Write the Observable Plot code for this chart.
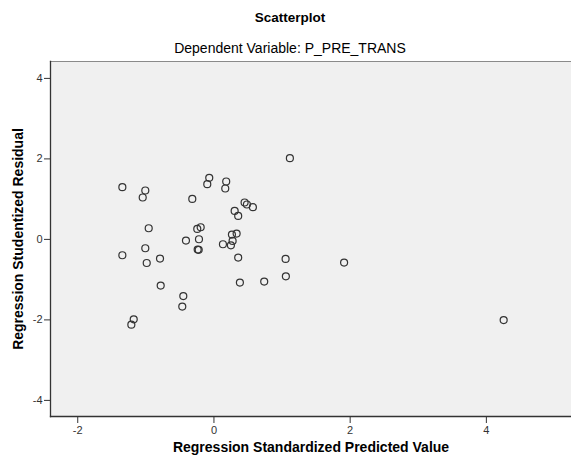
<!DOCTYPE html>
<html>
<head>
<meta charset="utf-8">
<script src="https://cdn.jsdelivr.net/npm/d3@7"></script>
<script src="https://cdn.jsdelivr.net/npm/@observablehq/plot@0.6"></script>
<style>
  html, body { margin: 0; padding: 0; background: #ffffff; }
  #wrap { position: relative; width: 571px; height: 459px; overflow: hidden; font-family: "Liberation Sans", Arial, sans-serif; }
  .ttl { position: absolute; left: 0; width: 580px; text-align: center; color: #000; white-space: nowrap; }
  #t1 { top: 10px; font-size: 13.5px; font-weight: bold; }
  #t2 { top: 40px; font-size: 14px; }
  #chart { position: absolute; left: 0; top: 0; }
</style>
</head>
<body>
<div id="wrap">
  <div id="chart"></div>
  <div class="ttl" id="t1">Scatterplot</div>
  <div class="ttl" id="t2">Dependent Variable: P_PRE_TRANS</div>
</div>
<script>
// Regression Standardized Predicted Value
const predicted = [
  -1.345, -1.008, -1.046, -0.069, -0.098, 0.180, 0.166, -0.318, 1.115, 0.450,
  0.484, 0.572, 0.304, 0.356, -0.958, -0.245, -0.195, -0.220, -0.411, 0.264,
  0.333, 0.274, 0.249, 0.132, -0.239, -0.224, -1.008, -1.345, -0.792, -0.987,
  0.356, 1.052, 1.056, 0.381, 0.738, -0.782, -0.450, -0.465, -1.178, -1.213,
  1.911, 4.254
];
// Regression Studentized Residual
const residual = [
  1.297, 1.215, 1.041, 1.529, 1.372, 1.439, 1.265, 1.006, 2.019, 0.917,
  0.867, 0.800, 0.708, 0.583, 0.277, 0.260, 0.302, 0.004, -0.029, 0.121,
  0.146, -0.039, -0.146, -0.121, -0.252, -0.258, -0.220, -0.394, -0.476, -0.586,
  -0.451, -0.486, -0.917, -1.073, -1.049, -1.148, -1.407, -1.670, -1.986, -2.118,
  -0.576, -2.004
];
const xTicks = [-2, 0, 2, 4];
const yTicks = [-4, -2, 0, 2, 4];
const xDomain = [-2.4, 5.25];
const yDomain = [-4.4, 4.42];
const xLabel = "Regression Standardized Predicted Value";
const yLabel = "Regression Studentized Residual";

const data = predicted.map((p, i) => ({x: p, y: residual[i]}));
const fmt = d => String(d);

const chart = Plot.plot({
  width: 571,
  height: 459,
  marginLeft: 50,
  marginRight: 0,
  marginTop: 61,
  marginBottom: 43,
  style: {fontFamily: "'Liberation Sans', Arial, sans-serif", fontSize: "11px", color: "#333", background: "transparent", overflow: "visible"},
  x: {domain: xDomain},
  y: {domain: yDomain},
  marks: [
    Plot.frame({fill: "#f0f0f0", stroke: null}),
    Plot.frame({anchor: "top", stroke: "#8a8a8a", strokeWidth: 1.2}),
    Plot.frame({anchor: "left", stroke: "#333", strokeWidth: 1.3}),
    Plot.frame({anchor: "bottom", stroke: "#333", strokeWidth: 1.3}),
    Plot.axisX({ticks: xTicks, tickFormat: fmt, tickSize: 7, tickPadding: 3, label: null, stroke: "#333"}),
    Plot.axisY({ticks: yTicks, tickFormat: fmt, tickSize: 6, tickPadding: 2, label: null, stroke: "#333"}),
    Plot.dot(data, {x: "x", y: "y", r: 3.5, stroke: "#333", strokeWidth: 1.2, fill: "none"}),
    Plot.text([xLabel], {frameAnchor: "bottom", dy: 35, text: d => d, textAnchor: "middle", fontSize: 14, fontWeight: "bold", fill: "#000"}),
    Plot.text([yLabel], {frameAnchor: "left", dx: -32, rotate: -90, text: d => d, textAnchor: "middle", fontSize: 14, fontWeight: "bold", fill: "#000"})
  ]
});
document.getElementById("chart").appendChild(chart);
</script>
</body>
</html>
